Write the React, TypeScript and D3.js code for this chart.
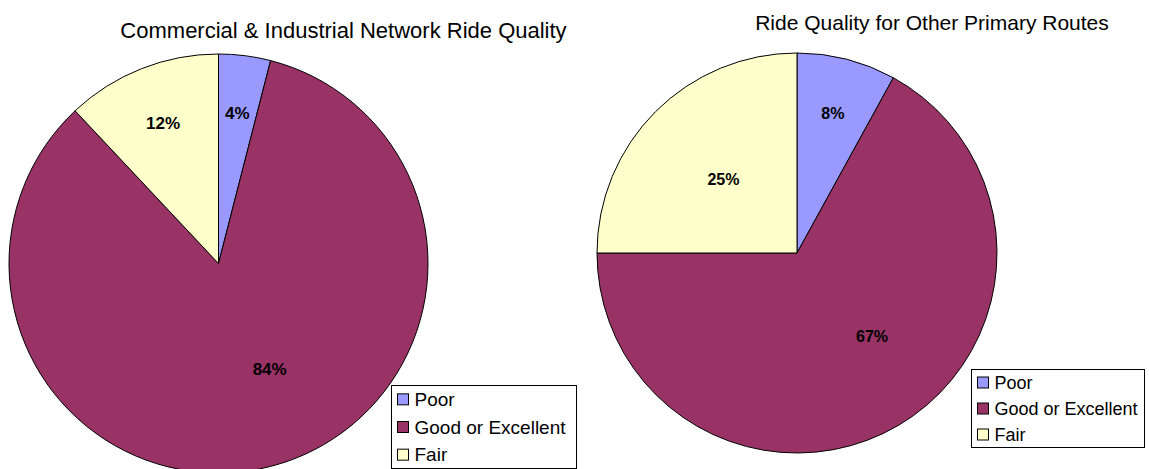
import React, { ReactElement } from 'react';
import * as d3 from 'd3';

const categories = ['Poor', 'Good or Excellent', 'Fair'];
const commercialValues = [4, 84, 12];
const otherValues = [8, 67, 25];
const sliceColors = ['#9999FF', '#993366', '#FFFFCC'];

const titles = ['Commercial & Industrial Network Ride Quality', 'Ride Quality for Other Primary Routes'];

interface PieProps {
  title: string,
  values: number[],
  cx: number,
  cy: number,
  radius: number,
  titleX: number,
  titleY: number,
  titleSize: number,
  labelSize: number,
  legendX: number,
  legendY: number,
  legendW: number,
  legendH: number,
  legendSize: number
}

const PieChart = (props: PieProps): ReactElement => {
  const { title, values, cx, cy, radius, titleX, titleY, titleSize, labelSize,
          legendX, legendY, legendW, legendH, legendSize } = props;

  const total = d3.sum(values);
  const pie = d3.pie<number>().value(d => d).sort(null);
  const arc = d3.arc<d3.PieArcDatum<number>>().innerRadius(0).outerRadius(radius);
  const arcs = pie(values);

  // roughly how excel placed the inside labels: small slices further out
  const labelPos = (d: d3.PieArcDatum<number>): [number, number] => {
    const share = d.value / total;
    const f = share < 0.15 ? 0.72 : share > 0.5 ? 0.56 : 0.52;
    const mid = (d.startAngle + d.endAngle) / 2 - (share > 0.5 ? 0.2 : 0);
    return [Math.sin(mid) * radius * f, -Math.cos(mid) * radius * f];
  };

  const rowStep = legendH / categories.length;
  const sw = 11;

  return (
    <g>
      <text x={titleX} y={titleY} textAnchor="middle" fontSize={titleSize} fill="#000">{title}</text>
      <g transform={`translate(${cx},${cy})`}>
        {arcs.map((d, i) => (
          <path key={i} d={arc(d) || ''} fill={sliceColors[i]} stroke="#000" strokeWidth={1} />
        ))}
        {arcs.map((d, i) => {
          const [x, y] = labelPos(d);
          return (
            <text key={i} x={x} y={y} textAnchor="middle" dominantBaseline="central"
                  fontSize={labelSize} fontWeight="bold" fill="#000">{`${d.value}%`}</text>
          );
        })}
      </g>
      <g transform={`translate(${legendX},${legendY})`}>
        <rect x={0} y={0} width={legendW} height={legendH} fill="#fff" stroke="#000" strokeWidth={1} />
        {categories.map((c, i) => {
          const yc = rowStep * (i + 0.5);
          return (
            <g key={c}>
              <rect x={6} y={yc - sw / 2} width={sw} height={sw} fill={sliceColors[i]} stroke="#000" strokeWidth={1} />
              <text x={23} y={yc} dominantBaseline="central" fontSize={legendSize} fill="#000">{c}</text>
            </g>
          );
        })}
      </g>
    </g>
  );
};

const App = (): ReactElement => {
  return (
    <svg width={1149} height={469} style={{ position: 'absolute', left: 0, top: 0, fontFamily: 'Arial, "Liberation Sans", sans-serif' }}>
      <rect width={1149} height={469} fill="#fff" />
      <PieChart title={titles[0]} values={commercialValues} cx={218.5} cy={263.5} radius={209.5}
                titleX={343.5} titleY={38} titleSize={22} labelSize={17}
                legendX={391.5} legendY={385.5} legendW={185} legendH={83} legendSize={19} />
      <PieChart title={titles[1]} values={otherValues} cx={797} cy={253} radius={200}
                titleX={932} titleY={30} titleSize={21} labelSize={16}
                legendX={971.5} legendY={369.5} legendW={173} legendH={78} legendSize={18} />
    </svg>
  );
};

export default App;
